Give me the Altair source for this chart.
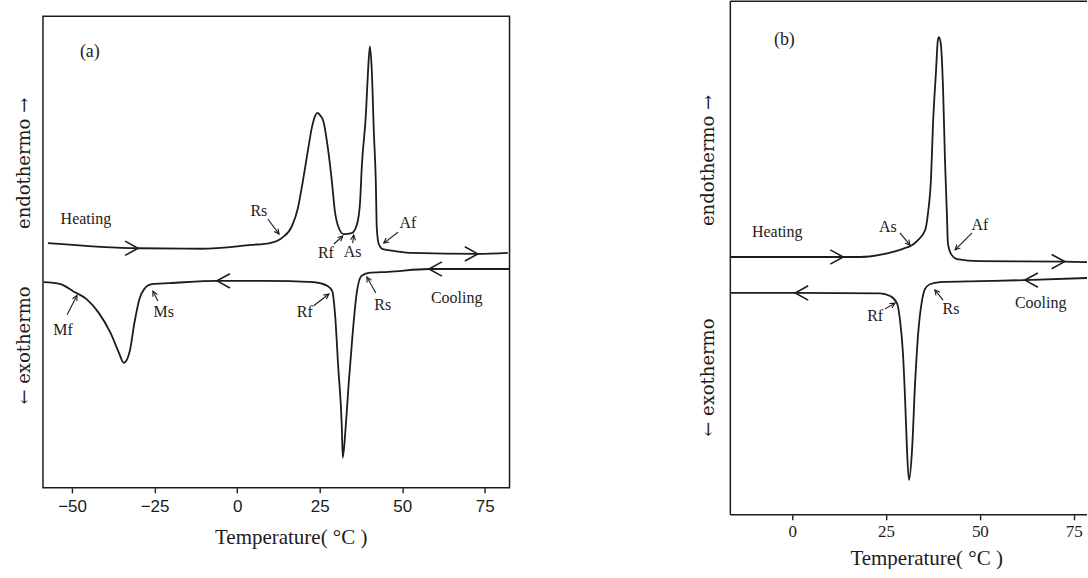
import math

import altair as alt
import numpy as np
import pandas as pd

INK = "#1c1c1c"
SERIF = "Liberation Serif"
SANS = "Liberation Sans"
YLAB_FONT = "DejaVu Serif"

# ---------------- panel (a) ----------------
# heating run: temperature (°C) and DSC signal (arbitrary units)
A_HEAT_T = [-57.3, -30.0, -11.0, 4.2, 9.9, 13.6, 16.6, 18.4, 19.9, 21.4, 22.7, 23.7,
            24.4, 25.1, 26.1, 27.5, 28.7, 29.6, 30.8, 32.3, 34.7, 36.3, 37.2, 37.8,
            39.0, 39.6, 40.2, 40.8, 41.4, 42.0, 42.3, 42.9, 44.1, 47.8, 52.9, 72.9, 82.0]
A_HEAT_V = [51.9, 50.8, 50.7, 51.5, 51.9, 53.0, 55.5, 59.3, 65.0, 71.4, 76.6, 79.0,
            79.5, 79.0, 77.8, 72.0, 65.0, 58.7, 55.1, 53.8, 54.0, 55.9, 60.2, 68.6,
            79.2, 87.7, 93.6, 88.3, 75.6, 65.0, 55.1, 51.7, 50.6, 50.2, 49.8, 49.6, 49.8]
# cooling run
A_COOL_T = [-58.6, -53.5, -49.7, -45.6, -41.9, -38.3, -36.0, -34.3, -32.5, -31.1,
            -29.6, -28.1, -25.8, -20.5, -5.9, 8.7, 23.2, 27.4, 28.8, 29.7,
            30.6, 31.7, 32.0, 32.9, 33.8, 35.0, 36.1, 37.6, 39.9, 45.8, 58.1, 82.5]
A_COOL_V = [43.6, 43.2, 41.7, 40.0, 37.1, 32.8, 29.0, 26.5, 29.0, 35.0,
            40.0, 42.2, 43.2, 43.4, 43.9, 43.9, 43.6, 42.8, 41.7, 36.4,
            25.8, 13.1, 6.4, 13.1, 22.2, 32.8, 40.7, 44.9, 45.6, 45.8, 46.4, 46.4]

A_LABEL_TEXT = ["Heating", "Rs", "Rf", "As", "Af", "Cooling", "Rs", "Rf", "Ms", "Mf"]
A_LABEL_T = [-45.8, 6.6, 26.9, 35.0, 51.7, 66.5, 44.1, 20.5, -22.2, -52.7]
A_LABEL_V = [57.0, 58.7, 49.8, 50.0, 56.1, 40.3, 38.8, 37.3, 37.3, 33.5]

# pointer arrows: tail (by the label) -> head (on the curve)
A_ARROW_T0 = [9.3, 29.3, 35.0, 48.7, 42.0, 23.2, -24.0, -51.5]
A_ARROW_V0 = [57.0, 51.7, 51.9, 54.2, 41.3, 38.6, 39.6, 36.7]
A_ARROW_T1 = [12.7, 32.0, 35.3, 44.4, 39.3, 27.8, -25.5, -48.5]
A_ARROW_V1 = [53.8, 53.4, 53.6, 51.9, 44.7, 41.1, 41.7, 40.8]

# scan-direction chevrons sitting on the curves
A_DIR_T = [-30.0, 72.9, 58.1, -6.1]
A_DIR_RUN = ["heating", "heating", "cooling", "cooling"]

# ---------------- panel (b) ----------------
B_HEAT_T = [-16.5, 13.6, 18.1, 25.3, 29.5, 31.9, 33.5, 35.4, 36.2, 37.0, 37.5, 38.3,
            38.8, 39.1, 39.6, 40.2, 40.7, 41.2, 41.5, 42.3, 43.9, 50.0, 72.6, 82.0]
B_HEAT_V = [50.2, 50.2, 50.2, 50.9, 51.8, 52.5, 53.5, 55.4, 58.9, 65.8, 75.9, 86.2,
            92.4, 93.0, 91.6, 82.7, 69.1, 58.9, 52.7, 50.8, 49.8, 49.4, 49.3, 49.1]
B_COOL_T = [-16.5, 0.8, 23.4, 26.1, 27.9, 28.7, 29.5, 30.1, 30.6, 31.1, 31.9, 32.7,
            33.5, 34.6, 35.4, 36.7, 39.4, 50.0, 62.0, 82.0]
B_COOL_V = [43.2, 43.2, 43.1, 42.6, 41.2, 38.0, 31.5, 22.0, 12.3, 6.8, 12.3, 25.1,
            34.8, 41.8, 44.0, 44.9, 45.3, 45.5, 45.7, 46.2]

B_LABEL_TEXT = ["Heating", "As", "Af", "Cooling", "Rs", "Rf"]
B_LABEL_T = [-4.0, 25.5, 50.0, 66.2, 42.3, 22.1]
B_LABEL_V = [55.1, 56.0, 56.4, 41.2, 40.1, 38.7]

B_ARROW_T0 = [28.7, 47.9, 40.2, 24.7]
B_ARROW_V0 = [54.9, 54.9, 41.8, 40.1]
B_ARROW_T1 = [31.4, 43.4, 38.0, 27.4]
B_ARROW_V1 = [52.5, 51.6, 43.8, 41.2]

B_DIR_T = [13.6, 72.6, 62.0, 0.8]
B_DIR_RUN = ["heating", "heating", "cooling", "cooling"]

X_TITLE = "Temperature( °C )"

# open arrowhead, tip at the origin, pointing up before rotation
HEAD = "M-1,2L0,0L1,2"
# open chevron, tip at the origin, pointing right before rotation
CHEVRON = "M-2,-1.1L0,0L-2,1.1"


def build_panel(tag, tag_t, heat, cool, labels, arrows, dirs, xdom, width, height,
                xticks, tick_font, label_pad, title_pad, title_x, ylab_vals,
                ylab_pad, ylab_extent, open_right=False):
    kx = width / (xdom[1] - xdom[0])
    ky = height / 100.0

    curves = pd.concat([
        pd.DataFrame({"T": heat[0], "v": heat[1], "run": "heating"}),
        pd.DataFrame({"T": cool[0], "v": cool[1], "run": "cooling"}),
    ])

    text_df = pd.DataFrame({"T": labels[1], "v": labels[2], "label": labels[0]})
    tag_df = pd.DataFrame({"T": [tag_t[0]], "v": [tag_t[1]], "label": [tag]})

    t0, v0, t1, v1 = arrows
    ang = []
    for a, b, c, d in zip(t0, v0, t1, v1):
        dx = (c - a) * kx
        dy = -(d - b) * ky
        ang.append(math.degrees(math.atan2(dx, -dy)) % 360)
    arrow_df = pd.DataFrame({"T": t0, "v": v0, "T2": t1, "v2": v1})
    head_df = pd.DataFrame({"T": t1, "v": v1, "angle": ang})

    run_xy = {"heating": heat, "cooling": cool}
    dir_t, dir_run = dirs
    dir_v = [float(np.interp(t, run_xy[r][0], run_xy[r][1])) for t, r in zip(dir_t, dir_run)]
    dir_df = pd.DataFrame({
        "T": dir_t, "v": dir_v,
        "angle": [0 if r == "heating" else 180 for r in dir_run],
    })

    x = alt.X(
        "T:Q",
        scale=alt.Scale(domain=xdom, nice=False, zero=False),
        title=X_TITLE,
        axis=alt.Axis(
            values=xticks, domain=False, grid=False, tickSize=5, tickWidth=1.4,
            tickColor=INK, labelFont=tick_font, labelFontSize=17, labelColor=INK,
            labelPadding=label_pad, labelFlush=False, titleFont=SERIF,
            titleFontSize=21, titleFontWeight="normal", titleColor=INK,
            titlePadding=title_pad, titleX=title_x, titleAlign="center",
        ),
    )
    y = alt.Y(
        "v:Q",
        scale=alt.Scale(domain=[0, 100], nice=False, zero=False),
        title="",
        axis=alt.Axis(
            values=ylab_vals, ticks=False, domain=False, grid=False,
            labelExpr="datum.value > 50 ? 'endothermo →' : '← exothermo'",
            labelAngle=270, labelAlign="center", labelBaseline="bottom",
            labelFont=YLAB_FONT, labelFontSize=18, labelColor=INK,
            labelPadding=ylab_pad, minExtent=ylab_extent,
            labelOverlap=False, labelFlush=False, labelBound=False,
        ),
    )

    line = alt.Chart(curves).mark_line(
        interpolate="monotone", strokeWidth=1.8, color=INK, clip=True
    ).encode(x=x, y=y, detail="run:N")

    pointers = alt.Chart(arrow_df).mark_rule(strokeWidth=1.1, color=INK).encode(
        x=x, y=y, x2=alt.X2("T2:Q"), y2=alt.Y2("v2:Q")
    )
    heads = alt.Chart(head_df).mark_point(
        shape=HEAD, size=25, filled=False, stroke=INK, strokeWidth=1.1, opacity=1
    ).encode(x=x, y=y, angle=alt.Angle("angle:Q", scale=None))

    chevrons = alt.Chart(dir_df).mark_point(
        shape=CHEVRON, size=169, filled=False, stroke=INK, strokeWidth=1.6, opacity=1
    ).encode(x=x, y=y, angle=alt.Angle("angle:Q", scale=None))

    texts = alt.Chart(text_df).mark_text(
        font=SERIF, fontSize=16, color=INK, align="center", baseline="middle"
    ).encode(x=x, y=y, text="label:N")

    tag_text = alt.Chart(tag_df).mark_text(
        font=SERIF, fontSize=18, color=INK, align="center", baseline="middle"
    ).encode(x=x, y=y, text="label:N")

    layers = [line, pointers, heads, chevrons, texts, tag_text]
    props = {"width": width, "height": height}

    if open_right:
        # frame on the left, top and bottom only; the right side runs off the sheet
        lo, hi = xdom
        frame_df = pd.DataFrame({
            "T": [lo, lo, lo], "v": [0, 100, 0],
            "T2": [lo, hi, hi], "v2": [100, 100, 0],
        })
        frame = alt.Chart(frame_df).mark_rule(strokeWidth=1.5, color=INK).encode(
            x=x, y=y, x2=alt.X2("T2:Q"), y2=alt.Y2("v2:Q")
        )
        layers.append(frame)
        props["view"] = alt.ViewBackground(strokeOpacity=0)

    return alt.layer(*layers).properties(**props)


panel_a = build_panel(
    "(a)", (-44.6, 92.4),
    (A_HEAT_T, A_HEAT_V), (A_COOL_T, A_COOL_V),
    (A_LABEL_TEXT, A_LABEL_T, A_LABEL_V),
    (A_ARROW_T0, A_ARROW_V0, A_ARROW_T1, A_ARROW_V1),
    (A_DIR_T, A_DIR_RUN),
    xdom=[-58.8, 82.5], width=467, height=472,
    xticks=[-50, -25, 0, 25, 50, 75], tick_font=SANS,
    label_pad=6, title_pad=12, title_x=248,
    ylab_vals=[30.3, 68.9], ylab_pad=9, ylab_extent=42,
)

panel_b = build_panel(
    "(b)", (-2.1, 92.4),
    (B_HEAT_T, B_HEAT_V), (B_COOL_T, B_COOL_V),
    (B_LABEL_TEXT, B_LABEL_T, B_LABEL_V),
    (B_ARROW_T0, B_ARROW_V0, B_ARROW_T1, B_ARROW_V1),
    (B_DIR_T, B_DIR_RUN),
    xdom=[-16.5, 78.55], width=357, height=514,
    xticks=[0, 25, 50, 75], tick_font=SERIF,
    label_pad=4, title_pad=8, title_x=196,
    ylab_vals=[26.8, 69.1], ylab_pad=13, ylab_extent=40,
    open_right=True,
)

# empty strip that drops panel (a) a little below panel (b)
spacer = alt.Chart(pd.DataFrame({"t": [""]})).mark_text().encode(
    text="t:N"
).properties(width=467, height=14, view=alt.ViewBackground(strokeOpacity=0))

left = alt.vconcat(spacer, panel_a, spacing=0)

chart = alt.hconcat(left, panel_b, spacing=180).properties(
    padding={"left": 0, "top": 0, "right": 0, "bottom": 0},
    background="white",
).configure_view(
    stroke=INK, strokeWidth=1.5
).configure_text(font=SERIF)

chart.save("out.html", embed_options={"renderer": "svg", "actions": False})
